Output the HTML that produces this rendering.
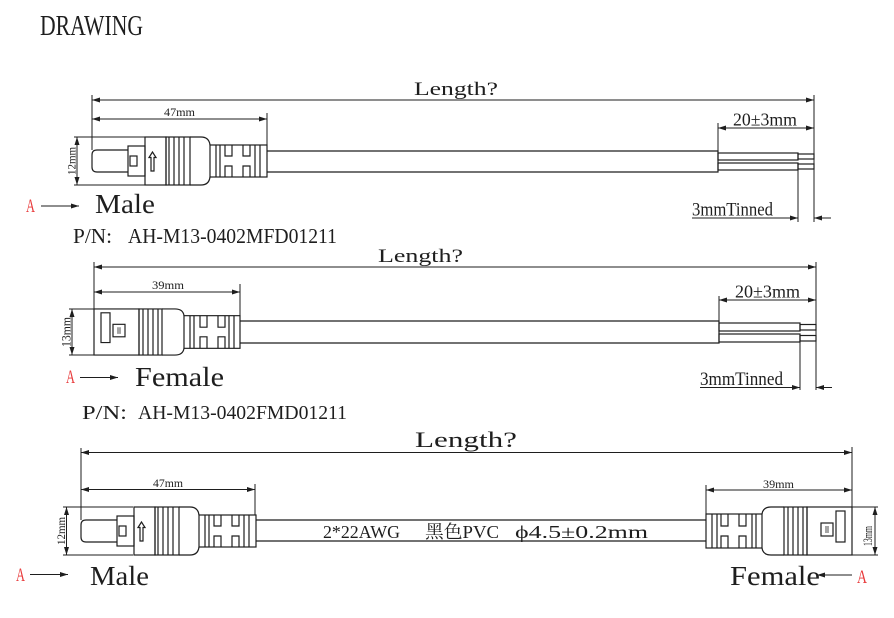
<!DOCTYPE html>
<html><head><meta charset="utf-8"><style>
html,body{margin:0;padding:0;background:#fff;}
svg{display:block;}
text{font-family:"Liberation Serif","Noto Serif CJK SC",serif;fill:#1e1e1e;}
.o{fill:none;stroke:#1e1e1e;stroke-width:1.2;}
.d{fill:none;stroke:#1e1e1e;stroke-width:1;}
.r{fill:#e8393a;}
</style></head><body>
<svg width="894" height="618" viewBox="0 0 894 618" xmlns="http://www.w3.org/2000/svg">
<defs>
<marker id="ar" viewBox="0 0 8 5" refX="8" refY="2.5" markerWidth="8" markerHeight="5" markerUnits="userSpaceOnUse" orient="auto-start-reverse">
<path d="M0,0 L8,2.5 L0,5 z" fill="#1e1e1e"/>
</marker>
<g id="male" class="o">
<path d="M36,-11 H5 Q0,-11 0,-6 V6 Q0,11 5,11 H36"/>
<rect x="36" y="-15" width="17" height="30"/>
<rect x="38" y="-5" width="7" height="10"/>
<rect x="53" y="-24" width="21" height="48"/>
<path d="M60.5,-9 L57,-3.5 H59 V10 H62 V-3.5 H64 Z"/>
<rect x="74" y="-24" width="24" height="48"/>
<path d="M77,-24V24M82,-24V24M87,-24V24M92,-24V24"/>
<path d="M98,-24 H109 Q117,-24 118,-16 M98,24 H109 Q117,24 118,16"/>
<rect x="118" y="-16" width="57" height="32"/>
<path d="M124,-16V16M128,-16V16M163,-16V16M168,-16V16"/>
<path d="M133,-16V-5H140V-16M133,16V5H140V16M151,-16V-5H158V-16M151,16V5H158V16"/>
</g>
<g id="female" class="o">
<rect x="0" y="-24" width="45" height="48"/>
<rect x="7" y="-20" width="9" height="31"/>
<rect x="19" y="-8" width="12" height="13"/>
<path d="M24,-5V2M26,-5V2" stroke-width="0.8"/>
<rect x="45" y="-24" width="23" height="48"/>
<path d="M49,-24V24M54,-24V24M59,-24V24M64,-24V24"/>
<path d="M68,-24 H81 Q89,-24 90,-17 M68,24 H81 Q89,24 90,17"/>
<rect x="90" y="-17" width="56" height="34"/>
<path d="M96,-17V17M100,-17V17M135,-17V17M140,-17V17"/>
<path d="M106,-17V-5H113V-17M106,17V5H113V17M124,-17V-5H131V-17M124,17V5H131V17"/>
</g>
</defs>

<text x="40" y="35" font-size="29" textLength="103" lengthAdjust="spacingAndGlyphs">DRAWING</text>

<!-- ===== Section 1: Male ===== -->
<text x="414" y="95" font-size="19" textLength="84" lengthAdjust="spacingAndGlyphs">Length?</text>
<line class="d" x1="92" y1="100" x2="814" y2="100" marker-start="url(#ar)" marker-end="url(#ar)"/>
<line class="d" x1="92" y1="95" x2="92" y2="150"/>
<line class="d" x1="814" y1="95" x2="814" y2="222"/>
<text x="164" y="116" font-size="12" textLength="31" lengthAdjust="spacingAndGlyphs">47mm</text>
<line class="d" x1="92" y1="119" x2="267" y2="119" marker-start="url(#ar)" marker-end="url(#ar)"/>
<line class="d" x1="267" y1="113" x2="267" y2="151"/>
<use href="#male" transform="translate(92,161)"/>
<path class="o" d="M267,151 H718 V172 H267"/>
<rect class="o" x="718" y="153" width="80" height="7"/>
<rect class="o" x="718" y="163" width="80" height="7"/>
<rect class="o" x="798" y="154" width="16" height="5"/>
<rect class="o" x="798" y="164" width="16" height="5"/>
<line class="d" x1="718" y1="123" x2="718" y2="151"/>
<text x="733" y="125.5" font-size="18" textLength="64" lengthAdjust="spacingAndGlyphs">20±3mm</text>
<line class="d" x1="718" y1="128" x2="814" y2="128" marker-start="url(#ar)" marker-end="url(#ar)"/>
<line class="d" x1="798" y1="170" x2="798" y2="222"/>
<text x="692" y="215.5" font-size="19" textLength="81" lengthAdjust="spacingAndGlyphs">3mmTinned</text>
<line class="d" x1="692" y1="218" x2="798" y2="218" marker-end="url(#ar)"/>
<line class="d" x1="831" y1="218" x2="814" y2="218" marker-end="url(#ar)"/>
<line class="d" x1="74" y1="137" x2="145" y2="137"/>
<line class="d" x1="74" y1="185" x2="145" y2="185"/>
<line class="d" x1="77" y1="137" x2="77" y2="185" marker-start="url(#ar)" marker-end="url(#ar)"/>
<text transform="translate(75.5,161) rotate(-90)" text-anchor="middle" font-size="12" textLength="28" lengthAdjust="spacingAndGlyphs">12mm</text>
<text class="r" x="26" y="212" font-size="19" textLength="9" lengthAdjust="spacingAndGlyphs">A</text>
<line class="d" x1="41" y1="206" x2="79" y2="206" marker-end="url(#ar)"/>
<text x="95" y="213" font-size="27" textLength="60" lengthAdjust="spacingAndGlyphs">Male</text>
<text x="73" y="243" font-size="21" textLength="39" lengthAdjust="spacingAndGlyphs">P/N:</text>
<text x="128" y="243" font-size="21" textLength="209" lengthAdjust="spacingAndGlyphs">AH-M13-0402MFD01211</text>

<!-- ===== Section 2: Female ===== -->
<text x="378" y="262" font-size="19" textLength="85" lengthAdjust="spacingAndGlyphs">Length?</text>
<line class="d" x1="94" y1="267" x2="816" y2="267" marker-start="url(#ar)" marker-end="url(#ar)"/>
<line class="d" x1="94" y1="262" x2="94" y2="309"/>
<line class="d" x1="816" y1="262" x2="816" y2="390"/>
<text x="152" y="289" font-size="12" textLength="32" lengthAdjust="spacingAndGlyphs">39mm</text>
<line class="d" x1="94" y1="292" x2="240" y2="292" marker-start="url(#ar)" marker-end="url(#ar)"/>
<line class="d" x1="240" y1="284" x2="240" y2="321"/>
<use href="#female" transform="translate(94,332) scale(1,0.96)"/>
<path class="o" d="M240,321 H719 V343 H240"/>
<rect class="o" x="719" y="323" width="81" height="8"/>
<rect class="o" x="719" y="334" width="81" height="8"/>
<rect class="o" x="800" y="324.5" width="16" height="5.5"/>
<rect class="o" x="800" y="335.5" width="16" height="5.5"/>
<line class="d" x1="719" y1="296" x2="719" y2="321"/>
<text x="735" y="297.5" font-size="18" textLength="65" lengthAdjust="spacingAndGlyphs">20±3mm</text>
<line class="d" x1="719" y1="300" x2="816" y2="300" marker-start="url(#ar)" marker-end="url(#ar)"/>
<line class="d" x1="800" y1="342" x2="800" y2="390"/>
<text x="700" y="385" font-size="19" textLength="83" lengthAdjust="spacingAndGlyphs">3mmTinned</text>
<line class="d" x1="700" y1="387.5" x2="800" y2="387.5" marker-end="url(#ar)"/>
<line class="d" x1="832" y1="387.5" x2="816" y2="387.5" marker-end="url(#ar)"/>
<line class="d" x1="69" y1="309" x2="94" y2="309"/>
<line class="d" x1="69" y1="355" x2="94" y2="355"/>
<line class="d" x1="72" y1="309" x2="72" y2="355" marker-start="url(#ar)" marker-end="url(#ar)"/>
<text transform="translate(70.5,332) rotate(-90)" text-anchor="middle" font-size="13" textLength="30" lengthAdjust="spacingAndGlyphs">13mm</text>
<text class="r" x="66" y="383" font-size="19" textLength="9" lengthAdjust="spacingAndGlyphs">A</text>
<line class="d" x1="80" y1="377.5" x2="118" y2="377.5" marker-end="url(#ar)"/>
<text x="135" y="386" font-size="27" textLength="89" lengthAdjust="spacingAndGlyphs">Female</text>
<text x="82" y="419" font-size="20" textLength="45" lengthAdjust="spacingAndGlyphs">P/N:</text>
<text x="138" y="419" font-size="20" textLength="209" lengthAdjust="spacingAndGlyphs">AH-M13-0402FMD01211</text>

<!-- ===== Section 3: Male to Female ===== -->
<text x="415" y="447" font-size="22" textLength="102" lengthAdjust="spacingAndGlyphs">Length?</text>
<line class="d" x1="81" y1="452.5" x2="852" y2="452.5" marker-start="url(#ar)" marker-end="url(#ar)"/>
<line class="d" x1="81" y1="448" x2="81" y2="520"/>
<line class="d" x1="852" y1="447" x2="852" y2="507"/>
<text x="153" y="487" font-size="12" textLength="30" lengthAdjust="spacingAndGlyphs">47mm</text>
<line class="d" x1="81" y1="489.5" x2="255" y2="489.5" marker-start="url(#ar)" marker-end="url(#ar)"/>
<line class="d" x1="255" y1="484" x2="255" y2="515"/>
<text x="763" y="488" font-size="12" textLength="31" lengthAdjust="spacingAndGlyphs">39mm</text>
<line class="d" x1="706" y1="490" x2="852" y2="490" marker-start="url(#ar)" marker-end="url(#ar)"/>
<line class="d" x1="706" y1="485" x2="706" y2="514"/>
<use href="#male" transform="translate(81,531)"/>
<use href="#female" transform="translate(852,531) scale(-1,1)"/>
<path class="o" d="M256,520 H706 M256,541 H706"/>
<text x="323" y="538" font-size="18" textLength="77" lengthAdjust="spacingAndGlyphs">2*22AWG</text>
<text x="425" y="538" font-size="18" textLength="74" lengthAdjust="spacingAndGlyphs">黑色PVC</text>
<text x="515" y="538" font-size="18" textLength="133" lengthAdjust="spacingAndGlyphs">ϕ4.5±0.2mm</text>
<line class="d" x1="63" y1="507" x2="133" y2="507"/>
<line class="d" x1="63" y1="555" x2="133" y2="555"/>
<line class="d" x1="66.5" y1="507" x2="66.5" y2="555" marker-start="url(#ar)" marker-end="url(#ar)"/>
<text transform="translate(65,531) rotate(-90)" text-anchor="middle" font-size="12" textLength="28" lengthAdjust="spacingAndGlyphs">12mm</text>
<line class="d" x1="852" y1="507" x2="878" y2="507"/>
<line class="d" x1="852" y1="555" x2="878" y2="555"/>
<line class="d" x1="875" y1="507" x2="875" y2="555" marker-start="url(#ar)" marker-end="url(#ar)"/>
<text transform="translate(872,536) rotate(-90)" text-anchor="middle" font-size="13" textLength="20" lengthAdjust="spacingAndGlyphs">13mm</text>
<text class="r" x="16" y="581" font-size="19" textLength="9" lengthAdjust="spacingAndGlyphs">A</text>
<line class="d" x1="30" y1="574.5" x2="68" y2="574.5" marker-end="url(#ar)"/>
<text x="90" y="585" font-size="27" textLength="59" lengthAdjust="spacingAndGlyphs">Male</text>
<text x="730" y="585" font-size="27" textLength="90" lengthAdjust="spacingAndGlyphs">Female</text>
<line class="d" x1="852" y1="575" x2="817" y2="575" marker-end="url(#ar)"/>
<text class="r" x="857" y="583" font-size="19" textLength="10" lengthAdjust="spacingAndGlyphs">A</text>
</svg>
</body></html>
